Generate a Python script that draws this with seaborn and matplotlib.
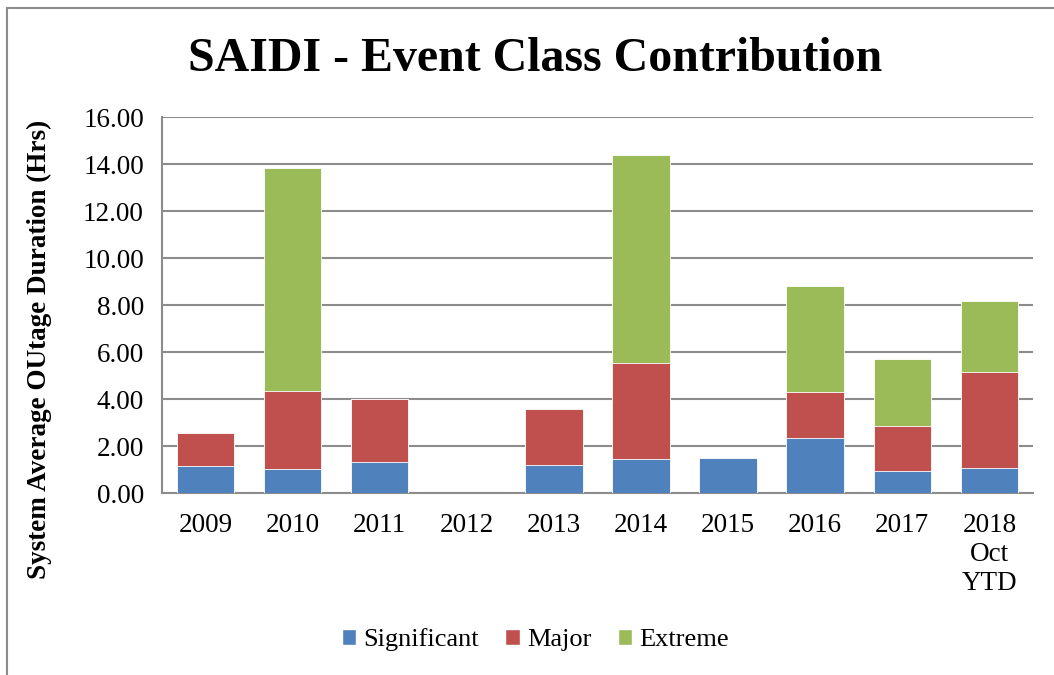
import numpy as np
import pandas as pd
import matplotlib
matplotlib.use("Agg")
import matplotlib.pyplot as plt
import seaborn as sns
from matplotlib.patches import Patch, Rectangle

years = ["2009", "2010", "2011", "2012", "2013", "2014", "2015", "2016", "2017", "2018\nOct\nYTD"]
significant = [1.16, 1.03, 1.33, 0.0, 1.20, 1.45, 1.50, 2.36, 0.97, 1.07]
major = [1.43, 3.34, 2.68, 0.0, 2.41, 4.11, 0.0, 1.94, 1.90, 4.11]
extreme = [0.0, 9.50, 0.0, 0.0, 0.0, 8.86, 0.0, 4.54, 2.84, 3.01]

blue = "#4F81BD"
red = "#C0504D"
green = "#9BBB59"

df = pd.DataFrame({"year": years, "Significant": significant, "Major": major, "Extreme": extreme})
df["lvl1"] = df["Significant"]
df["lvl2"] = df["lvl1"] + df["Major"]
df["lvl3"] = df["lvl2"] + df["Extreme"]

sns.set_style("white")
plt.rcParams["font.family"] = ["Liberation Serif", "DejaVu Serif"]
plt.rcParams["text.color"] = "black"
plt.rcParams["axes.labelcolor"] = "black"

fig = plt.figure(figsize=(10.54, 6.75), dpi=100)
ax = fig.add_axes([0.1537, 0.2689, 0.8263, 0.5571])

# stacked bars: draw totals first, then cover with the lower layers
for col, c in [("lvl3", green), ("lvl2", red), ("lvl1", blue)]:
    sns.barplot(data=df, x="year", y=col, color=c, width=0.66, ax=ax,
                edgecolor="white", linewidth=0.6, saturation=1, zorder=3)

ax.set_ylim(0, 16)
ax.set_xlim(-0.5, 9.5)
ax.set_yticks(np.arange(0, 16.01, 2))
ax.set_yticklabels([f"{v:.2f}" for v in np.arange(0, 16.01, 2)])
ax.yaxis.grid(True, color="#8c8c8c", linewidth=1.5, zorder=0)
ax.set_axisbelow(True)

ax.set_xticks(range(len(years)))
ax.set_xticklabels(years, linespacing=1.2)
ax.set_xticks(np.arange(-0.5, 10, 1), minor=True)
ax.tick_params(axis="x", which="major", length=0, pad=14, labelsize=19.5, labelcolor="black")
ax.tick_params(axis="x", which="minor", length=8, width=1.5, color="#8c8c8c", direction="out")
ax.tick_params(axis="y", length=8, width=1.5, color="#8c8c8c", direction="out",
               labelsize=19.5, pad=5, labelcolor="black")

for s in ["top", "right"]:
    ax.spines[s].set_visible(False)
for s in ["left", "bottom"]:
    ax.spines[s].set_color("#8c8c8c")
    ax.spines[s].set_linewidth(1.5)

ax.set_xlabel("")
ax.set_ylabel("System Average OUtage Duration (Hrs)", fontsize=19.5, fontweight="bold")
ax.yaxis.set_label_coords(-0.126, 0.384)

fig.text(0.508, 0.912, "SAIDI - Event Class Contribution", ha="center", va="center",
         fontsize=34.5, fontweight="bold")

handles = [Patch(facecolor=blue, label="Significant"),
           Patch(facecolor=red, label="Major"),
           Patch(facecolor=green, label="Extreme")]
fig.legend(handles=handles, loc="center", bbox_to_anchor=(0.508, 0.052), ncol=3,
           frameon=False, prop={"family": ["Liberation Serif"], "size": 19},
           handlelength=0.55, handleheight=0.55, handletextpad=0.27, columnspacing=1.0)

# chart border (left and top edges visible)
fig.patches.append(Rectangle((7 / 1054, -0.1), 1.2, 1.1 - 8 / 675, transform=fig.transFigure,
                             fill=False, edgecolor="#8c8c8c", linewidth=1.5))

fig.savefig("out.png", dpi=100)
